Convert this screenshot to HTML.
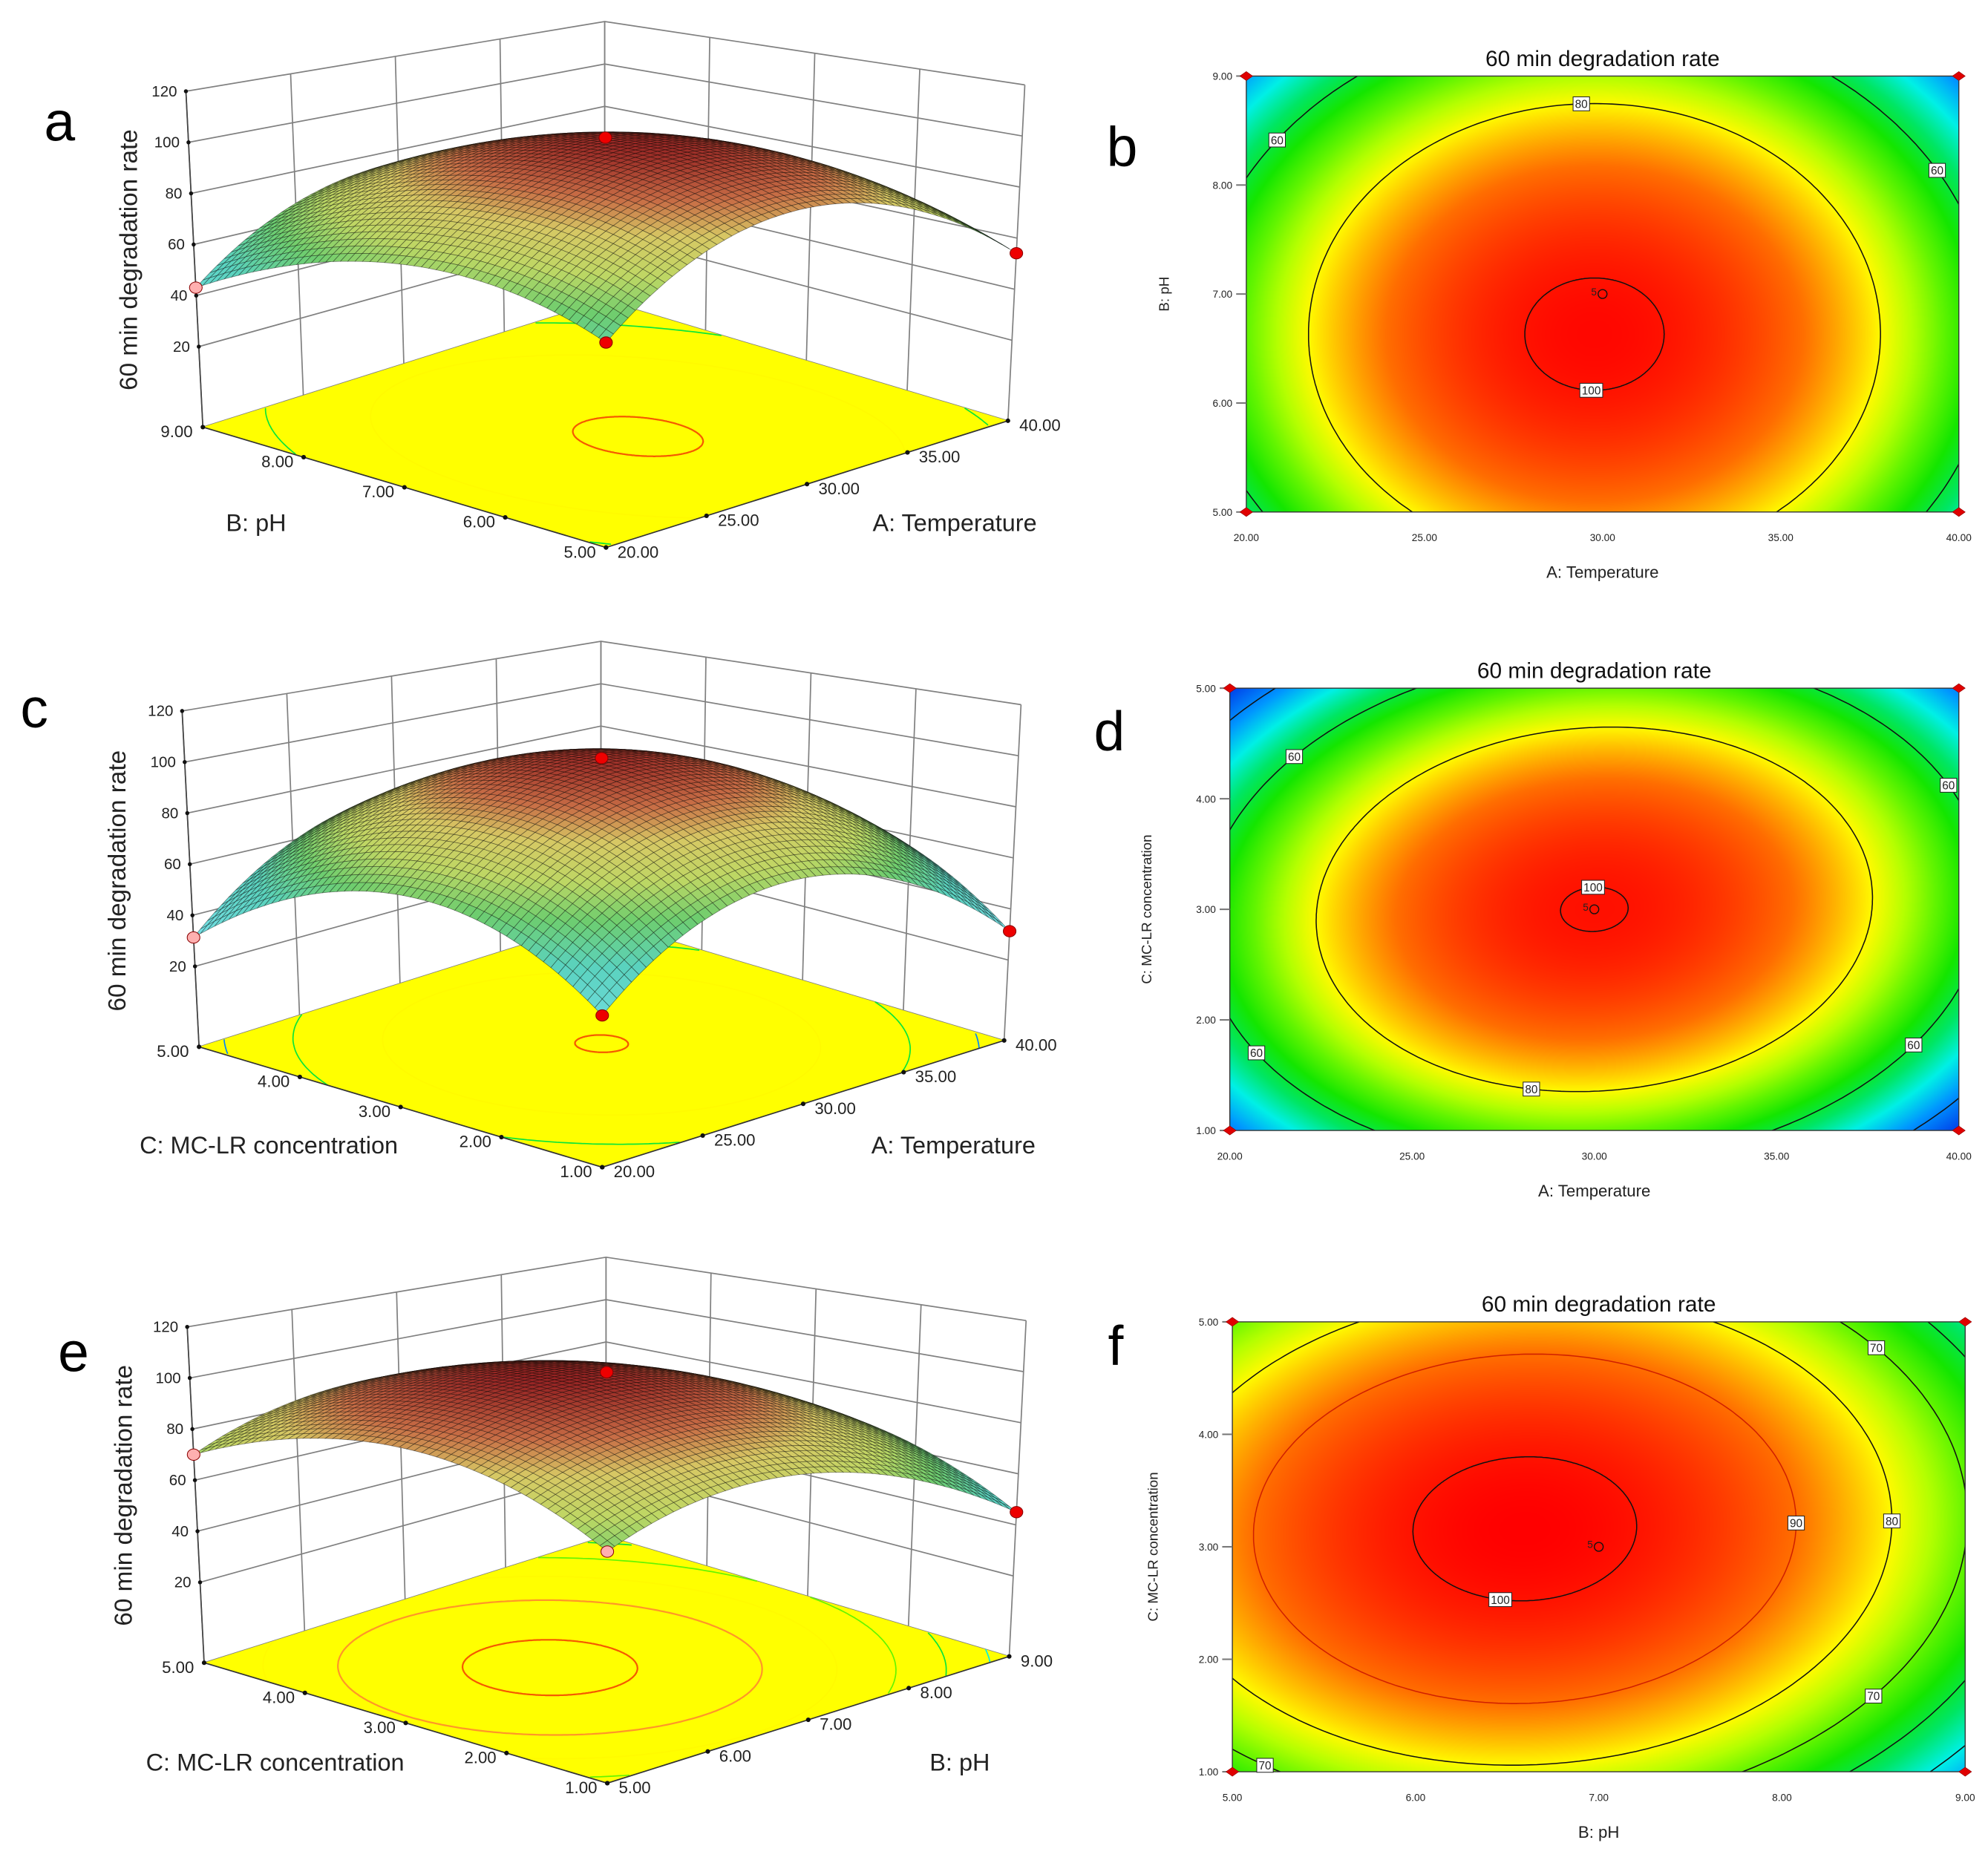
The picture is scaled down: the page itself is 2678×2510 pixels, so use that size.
<!DOCTYPE html>
<html><head><meta charset="utf-8">
<style>
html,body{margin:0;padding:0;background:#fff;}
#wrap{position:relative;width:2678px;height:2510px;overflow:hidden;}
canvas{position:absolute;z-index:0;}
#fig{position:absolute;left:0;top:0;z-index:1;}
text{font-family:"Liberation Sans",sans-serif;}
</style></head>
<body>
<div id="wrap">
<svg id="fig" width="2678" height="2510" viewBox="0 0 1568 1470" preserveAspectRatio="none" xmlns="http://www.w3.org/2000/svg">
<text x="47" y="111" font-size="44" text-anchor="middle">a</text>
<text x="885" y="131" font-size="44" text-anchor="middle">b</text>
<text x="27" y="574" font-size="44" text-anchor="middle">c</text>
<text x="875" y="592" font-size="44" text-anchor="middle">d</text>
<text x="58" y="1082" font-size="44" text-anchor="middle">e</text>
<text x="880" y="1077" font-size="44" text-anchor="middle">f</text>
</svg>
</div>
<script>
// ---- data: fitted quadratic response models in coded units [c0, c1(x), c2(y), c11(x^2), c22(y^2), c12(xy)]
const modelAB = [100.6, -1.5, -7, -33, -19, 0];
const modelAC = [100.3, 0, 0, -35, -30, 4];
const modelBC = [101, -9, 3.5, -22, -20, 1.5];
// contour levels
const levelsB = [60, 80, 100];
const levelsD = [40, 60, 80, 100];
const levelsF = [50, 60, 70, 80, 90, 100];
// tick labels
const tempTicks = ["20.00", "25.00", "30.00", "35.00", "40.00"];
const phTicks = ["5.00", "6.00", "7.00", "8.00", "9.00"];
const mcTicks = ["1.00", "2.00", "3.00", "4.00", "5.00"];
const zTicks = [20, 40, 60, 80, 100, 120];

const S = 2678 / 1568;
const NS = "http://www.w3.org/2000/svg";
const svg = document.getElementById('fig');

function mk(parent, tag, attrs, name, inter) {
  const el = document.createElementNS(NS, tag);
  for (const k in attrs) el.setAttribute(k, attrs[k]);
  
  
  parent.appendChild(el);
  return el;
}
function txt(parent, x, y, s, size, name, extra) {
  const a = Object.assign({x: x, y: y, 'font-size': size, fill: '#222'}, extra || {});
  const t = mk(parent, 'text', a, name, false);
  t.textContent = s;
  return t;
}
function fval(m, x, y) { return m[0] + m[1]*x + m[2]*y + m[3]*x*x + m[4]*y*y + m[5]*x*y; }
function center(m) {
  const a = 2*m[3], b = m[5], c = m[5], d = 2*m[4];
  const det = a*d - b*c;
  const x = (-m[1]*d + b*m[2]) / det;
  const y = (-a*m[2] + c*m[1]) / det;
  return [x, y, fval(m, x, y)];
}
function contourPts(m, L, n) {
  const [cx, cy, fm] = center(m);
  const pts = [];
  if (L >= fm) return pts;
  for (let i = 0; i <= n; i++) {
    const t = i / n * 2 * Math.PI, dx = Math.cos(t), dy = Math.sin(t);
    const Q = m[3]*dx*dx + m[4]*dy*dy + m[5]*dx*dy;
    const r = Math.sqrt((L - fm) / Q);
    pts.push([cx + r*dx, cy + r*dy]);
  }
  return pts;
}
function contourAt(m, L, deg) {
  const [cx, cy, fm] = center(m);
  if (L >= fm) return null;
  const t = deg * Math.PI / 180, dx = Math.cos(t), dy = Math.sin(t);
  const Q = m[3]*dx*dx + m[4]*dy*dy + m[5]*dx*dy;
  const r = Math.sqrt((L - fm) / Q);
  return [cx + r*dx, cy + r*dy];
}
const heatStops = [[102,255,0,0],[90,255,110,0],[80,255,250,0],[75,180,255,0],[70,100,245,0],[64,20,230,0],[57,0,230,100],[50,0,240,230],[42,0,150,255],[30,0,50,230]];
const surfStops = [[102,150,35,35],[92,200,110,70],[84,215,200,100],[74,190,215,100],[64,110,205,110],[52,90,210,190],[30,120,225,235]];
function cmap(stops, v) {
  if (v >= stops[0][0]) return stops[0].slice(1);
  for (let i = 0; i < stops.length - 1; i++) {
    const a = stops[i], b = stops[i+1];
    if (v <= a[0] && v >= b[0]) {
      const t = (a[0] - v) / (a[0] - b[0]);
      return [0,1,2].map(k => Math.round(a[k+1] + (b[k+1] - a[k+1]) * t));
    }
  }
  return stops[stops.length-1].slice(1);
}
function rgb(c) { return 'rgb(' + c[0] + ',' + c[1] + ',' + c[2] + ')'; }

// ================= 3D panels =================
function proj(g, u, v, z) {
  const Z = (z + 11.5) / 131.5;
  const fx = g.fx + u*317 - v*318;
  const fy = g.fy - u*100 - v*95;
  const h = 310 - 45*(u + v);
  return [fx + (fx - g.fx)*0.042*Z, fy - h*Z];
}
function pstr(arr) { return arr.map(p => p[0].toFixed(1) + ',' + p[1].toFixed(1)).join(' '); }

function panel3D(g) {
  const G = mk(svg, 'g', {}, g.name, false);
  const gridC = '#808080';
  for (const z of zTicks.concat([-11.5])) {
    const a = proj(g, 0, 1, z), b = proj(g, 1, 1, z), c = proj(g, 1, 0, z);
    mk(G, 'polyline', {points: pstr([a, b, c]), fill: 'none', stroke: gridC, 'stroke-width': 1}, 'wall-gridline', false);
  }
  for (const s of [0, 0.25, 0.5, 0.75, 1]) {
    const a = proj(g, s, 1, -11.5), b = proj(g, s, 1, 120);
    mk(G, 'line', {x1: a[0], y1: a[1], x2: b[0], y2: b[1], stroke: gridC, 'stroke-width': 1}, 'left-wall-vertical', false);
    const c = proj(g, 1, s, -11.5), d = proj(g, 1, s, 120);
    mk(G, 'line', {x1: c[0], y1: c[1], x2: d[0], y2: d[1], stroke: gridC, 'stroke-width': 1}, 'right-wall-vertical', false);
  }
  const za = proj(g, 0, 1, -11.5), zb = proj(g, 0, 1, 120);
  mk(G, 'line', {x1: za[0], y1: za[1], x2: zb[0], y2: zb[1], stroke: '#444', 'stroke-width': 1}, 'z-axis-line', false);
  for (const z of zTicks) {
    const p = proj(g, 0, 1, z);
    mk(G, 'circle', {cx: p[0], cy: p[1], r: 1.6, fill: '#111'}, 'z-tick', false);
    txt(G, p[0] - 7, p[1] + 4, String(z), 12, 'z-tick-label', {'text-anchor': 'end'});
  }
  const F = [proj(g,0,0,-11.5), proj(g,1,0,-11.5), proj(g,1,1,-11.5), proj(g,0,1,-11.5)];
  mk(G, 'polygon', {points: pstr(F), fill: '#ffff00', stroke: 'none'}, 'floor-plane', false);
  for (const L of g.levels) {
    const pts = contourPts(g.model, L, 400);
    let seg = [];
    const col = L >= 100 ? 'rgb(245,90,0)' : L >= 90 ? 'rgb(255,150,40)' : rgb(cmap(heatStops, L));
    const flush = () => {
      if (seg.length > 1) mk(G, 'polyline', {points: pstr(seg), fill: 'none', stroke: col, 'stroke-width': L >= 90 ? 1.3 : 1}, 'floor-contour-' + L, false);
      seg = [];
    };
    for (const q of pts) {
      if (Math.abs(q[0]) > 1 || Math.abs(q[1]) > 1) { flush(); continue; }
      seg.push(proj(g, (q[0]+1)/2, (q[1]+1)/2, -11.5));
    }
    flush();
  }
  mk(G, 'polyline', {points: pstr([F[3], F[0], F[1]]), fill: 'none', stroke: '#333', 'stroke-width': 1}, 'floor-edge', false);
  for (let i = 0; i < 5; i++) {
    const s = i / 4;
    const pv = proj(g, 0, s, -11.5), pu = proj(g, s, 0, -11.5);
    mk(G, 'circle', {cx: pv[0], cy: pv[1], r: 1.8, fill: '#111'}, 'left-axis-tick', false);
    mk(G, 'circle', {cx: pu[0], cy: pu[1], r: 1.8, fill: '#111'}, 'right-axis-tick', false);
    txt(G, pv[0] - 8, pv[1] + 8, g.vTicks[i], 13, 'left-axis-tick-label', {'text-anchor': 'end'});
    txt(G, pu[0] + 9, pu[1] + 8, g.uTicks[i], 13, 'right-axis-tick-label', {'text-anchor': 'start'});
  }
  const N = 56, quads = [];
  for (let i = 0; i < N; i++) for (let j = 0; j < N; j++) {
    const u0 = i/N, u1 = (i+1)/N, v0 = j/N, v1 = (j+1)/N;
    const z = (u, v) => fval(g.model, 2*u-1, 2*v-1);
    const zc = z((u0+u1)/2, (v0+v1)/2);
    quads.push({d: u0 + v0, zc: zc, pts: [proj(g,u0,v0,z(u0,v0)), proj(g,u1,v0,z(u1,v0)), proj(g,u1,v1,z(u1,v1)), proj(g,u0,v1,z(u0,v1))]});
  }
  quads.sort((a, b) => b.d - a.d);
  const SG = mk(G, 'g', {stroke: 'rgba(0,0,0,0.45)', 'stroke-width': 0.45}, 'response-surface', false);
  for (const q of quads) {
    mk(SG, 'polygon', {points: pstr(q.pts), fill: rgb(cmap(surfStops, q.zc))}, 'surface-cell', false);
  }
  for (const dp of g.dots) {
    const z = fval(g.model, 2*dp[0]-1, 2*dp[1]-1);
    const p = proj(g, dp[0], dp[1], z);
    mk(G, 'ellipse', {cx: p[0], cy: p[1], rx: 5, ry: 4.5, fill: dp[2] ? '#ffb0b0' : '#ee0000', stroke: '#800', 'stroke-width': 0.6}, 'design-point', true);
  }
  txt(G, g.vTitle[1], g.vTitle[2], g.vTitle[0], 19, 'left-axis-title', {'text-anchor': 'middle'});
  txt(G, g.uTitle[1], g.uTitle[2], g.uTitle[0], 19, 'right-axis-title', {'text-anchor': 'middle'});
  txt(G, 0, 0, '60 min degradation rate', 19.5, 'z-axis-title', {'text-anchor': 'middle', transform: 'translate(' + g.zt[0] + ',' + g.zt[1] + ') rotate(-90)'});
}

panel3D({name: 'panel-a-surface', fx: 478, fy: 432, model: modelAB, levels: levelsB, uTicks: tempTicks, vTicks: phTicks,
  dots: [[0,0,0],[0,1,1],[1,0,0],[0.5,0.5,0]], vTitle: ['B: pH', 202, 419], uTitle: ['A: Temperature', 753, 419], zt: [108, 205]});
panel3D({name: 'panel-c-surface', fx: 475, fy: 921, model: modelAC, levels: levelsD, uTicks: tempTicks, vTicks: mcTicks,
  dots: [[0,0,0],[0,1,1],[1,0,0],[0.5,0.5,0]], vTitle: ['C: MC-LR concentration', 212, 910], uTitle: ['A: Temperature', 752, 910], zt: [99, 695]});
panel3D({name: 'panel-e-surface', fx: 479, fy: 1407, model: modelBC, levels: levelsF, uTicks: phTicks, vTicks: mcTicks,
  dots: [[0,0,1],[0,1,1],[1,0,0],[0.5,0.5,0]], vTitle: ['C: MC-LR concentration', 217, 1397], uTitle: ['B: pH', 757, 1397], zt: [104, 1180]});

// ================= contour panels =================
function contourPanel(c) {
  const G = mk(svg, 'g', {}, c.name, false);
  const w = c.x1 - c.x0, h = c.y1 - c.y0;
  const cv = document.createElement('canvas');
  
  
  const cw = Math.round(w * S), ch = Math.round(h * S);
  cv.width = cw; cv.height = ch;
  cv.style.left = (c.x0 * S) + 'px'; cv.style.top = (c.y0 * S) + 'px';
  cv.style.width = cw + 'px'; cv.style.height = ch + 'px';
  document.getElementById('wrap').appendChild(cv);
  const ctx = cv.getContext('2d'), img = ctx.createImageData(cw, ch);
  for (let j = 0; j < ch; j++) for (let i = 0; i < cw; i++) {
    const x = (i + 0.5) / cw * 2 - 1, y = 1 - (j + 0.5) / ch * 2;
    const col = cmap(heatStops, fval(c.model, x, y));
    const k = (j * cw + i) * 4;
    img.data[k] = col[0]; img.data[k+1] = col[1]; img.data[k+2] = col[2]; img.data[k+3] = 255;
  }
  ctx.putImageData(img, 0, 0);
  const X = x => c.x0 + (x + 1) / 2 * w, Y = y => c.y1 - (y + 1) / 2 * h;
  const clipId = c.name + '-clip';
  const cp = mk(G, 'clipPath', {id: clipId}, 'plot-clip', false);
  mk(cp, 'rect', {x: c.x0, y: c.y0, width: w, height: h}, 'plot-clip-rect', false);
  const CG = mk(G, 'g', {'clip-path': 'url(#' + clipId + ')'}, 'contour-lines', false);
  for (const L of c.levels) {
    const pts = contourPts(c.model, L, 400).map(p => [X(p[0]), Y(p[1])]);
    if (pts.length) mk(CG, 'polyline', {points: pstr(pts), fill: 'none', stroke: (c.redLevel === L) ? '#d02000' : '#111', 'stroke-width': 0.9}, 'contour-' + L, false);
  }
  mk(G, 'rect', {x: c.x0, y: c.y0, width: w, height: h, fill: 'none', stroke: '#333', 'stroke-width': 0.8}, 'plot-frame', false);
  for (const lb of c.labels) {
    const p = contourAt(c.model, lb[0], lb[1]);
    if (!p || Math.abs(p[0]) > 0.99 || Math.abs(p[1]) > 0.99) continue;
    const px = X(p[0]), py = Y(p[1]), bw = lb[0] >= 100 ? 18 : 13;
    mk(G, 'rect', {x: px - bw/2, y: py - 5.5, width: bw, height: 11, fill: '#fff', stroke: '#222', 'stroke-width': 0.6}, 'contour-label-box', false);
    txt(G, px, py + 3.3, String(lb[0]), 9, 'contour-label', {'text-anchor': 'middle'});
  }
  const dpx = X(c.pt[0]), dpy = Y(c.pt[1]);
  mk(G, 'circle', {cx: dpx, cy: dpy, r: 3.5, fill: 'none', stroke: '#111', 'stroke-width': 0.8}, 'center-point', true);
  txt(G, dpx - 9, dpy + 1, '5', 8, 'center-point-count', {});
  for (let i = 0; i < 5; i++) {
    const tx = c.x0 + i / 4 * w, ty = c.y1 - i / 4 * h;
    mk(G, 'line', {x1: c.x0 - 8, y1: ty, x2: c.x0, y2: ty, stroke: '#777', 'stroke-width': 1.2}, 'y-tick', false);
    txt(G, c.x0 - 11, ty + 3, c.yTicks[i], 8, 'y-tick-label', {'text-anchor': 'end'});
    txt(G, tx, c.y1 + 23, c.xTicks[i], 8, 'x-tick-label', {'text-anchor': 'middle'});
  }
  for (const q of [[c.x0, c.y0], [c.x1, c.y0], [c.x0, c.y1], [c.x1, c.y1]]) {
    mk(G, 'polygon', {points: pstr([[q[0]-5, q[1]], [q[0], q[1]-3.5], [q[0]+5, q[1]], [q[0], q[1]+3.5]]), fill: '#e00000', stroke: '#900', 'stroke-width': 0.4}, 'corner-design-point', true);
  }
  txt(G, (c.x0 + c.x1) / 2, c.y0 - 8, '60 min degradation rate', 17.5, 'chart-title', {'text-anchor': 'middle', fill: '#111'});
  txt(G, (c.x0 + c.x1) / 2, c.y1 + 52, c.xTitle, 13, 'x-axis-title', {'text-anchor': 'middle'});
  txt(G, 0, 0, c.yTitle, 11, 'y-axis-title', {'text-anchor': 'middle', transform: 'translate(' + c.yt + ',' + ((c.y0 + c.y1) / 2) + ') rotate(-90)'});
}

contourPanel({name: 'panel-b-contour', x0: 983, y0: 60, x1: 1545, y1: 404, model: modelAB, levels: levelsB,
  labels: [[60, 135], [60, 38], [60, 200], [80, 92], [100, 268]], pt: [0, 0], xTicks: tempTicks, yTicks: phTicks,
  xTitle: 'A: Temperature', yTitle: 'B: pH', yt: 922});
contourPanel({name: 'panel-d-contour', x0: 970, y0: 543, x1: 1545, y1: 892, model: modelAC, levels: levelsD,
  labels: [[60, 140], [60, 30], [60, 215], [60, 325], [80, 258], [40, 320], [100, 92]], pt: [0, 0], xTicks: tempTicks, yTicks: mcTicks,
  xTitle: 'A: Temperature', yTitle: 'C: MC-LR concentration', yt: 908});
contourPanel({name: 'panel-f-contour', x0: 972, y0: 1043, x1: 1550, y1: 1398, model: modelBC, levels: levelsF, redLevel: 90,
  labels: [[100, 258], [90, 2], [80, 2], [70, 40], [70, 322], [70, 236], [60, 30], [60, 334], [50, 338]], pt: [0, 0], xTicks: phTicks, yTicks: mcTicks,
  xTitle: 'B: pH', yTitle: 'C: MC-LR concentration', yt: 913});
</script>
</body></html>
